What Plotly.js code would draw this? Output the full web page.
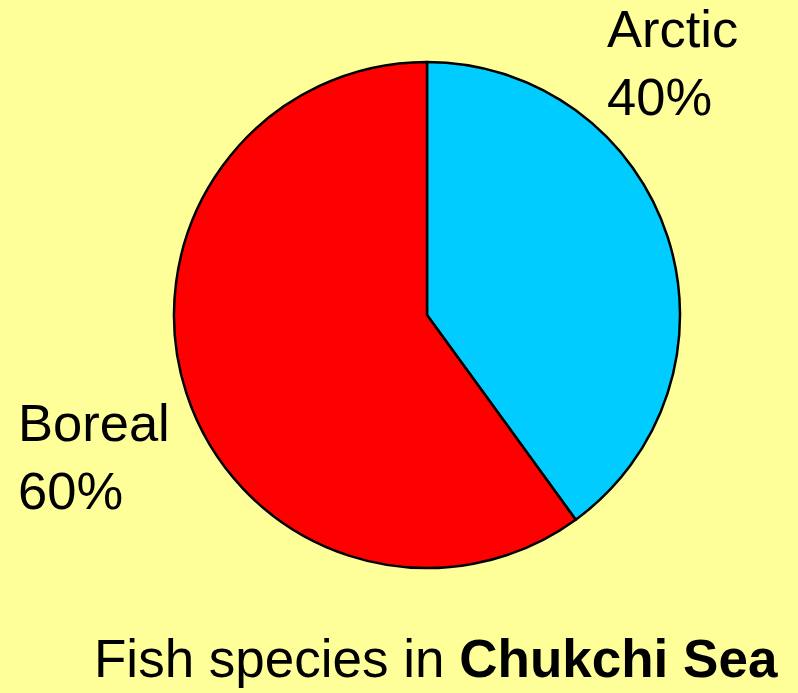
<!DOCTYPE html>
<html>
<head>
<meta charset="utf-8">
<script src="https://cdn.plot.ly/plotly-3.0.1.min.js"></script>
<style>
  html, body { margin: 0; padding: 0; background: #FFFF99; }
  #chart { width: 798px; height: 693px; }
</style>
</head>
<body>
<div id="chart"></div>
<script>
// Share of fish species by zoogeographic origin, Chukchi Sea
const categories = ['Arctic', 'Boreal'];
const shares = [40, 60];
const sliceColors = ['#00CCFF', '#FF0000'];
const chartTitle = 'Fish species in <b>Chukchi Sea</b>';

const W = 798, H = 693;
const px = v => v / W;
const py = v => 1 - v / H;

const trace = {
  type: 'pie',
  labels: categories,
  values: shares,
  sort: false,
  direction: 'clockwise',
  rotation: 0,
  textinfo: 'none',
  hoverinfo: 'none',
  marker: { colors: sliceColors, line: { color: '#000000', width: 2.5 } },
  domain: { x: [px(174), px(680)], y: [py(568), py(62)] },
  showlegend: false
};

const labelFont = { family: 'Liberation Sans, Arial, sans-serif', size: 52.5, color: '#000000' };

const annotations = [
  {
    text: categories[0] + '<br>' + shares[0] + '%',
    xref: 'paper', yref: 'paper', x: px(605), y: py(62),
    xanchor: 'left', yanchor: 'middle', align: 'left',
    showarrow: false, font: labelFont
  },
  {
    text: categories[1] + '<br>' + shares[1] + '%',
    xref: 'paper', yref: 'paper', x: px(16), y: py(456),
    xanchor: 'left', yanchor: 'middle', align: 'left',
    showarrow: false, font: labelFont
  },
  {
    text: chartTitle,
    xref: 'paper', yref: 'paper', x: px(92), y: py(658),
    xanchor: 'left', yanchor: 'middle', align: 'left',
    showarrow: false,
    font: { family: 'Liberation Sans, Arial, sans-serif', size: 53, color: '#000000' }
  }
];

const layout = {
  width: W, height: H,
  margin: { l: 0, r: 0, t: 0, b: 0 },
  paper_bgcolor: '#FFFF99',
  plot_bgcolor: '#FFFF99',
  annotations: annotations
};

Plotly.newPlot('chart', [trace], layout, { displayModeBar: false, staticPlot: true });
</script>
</body>
</html>
